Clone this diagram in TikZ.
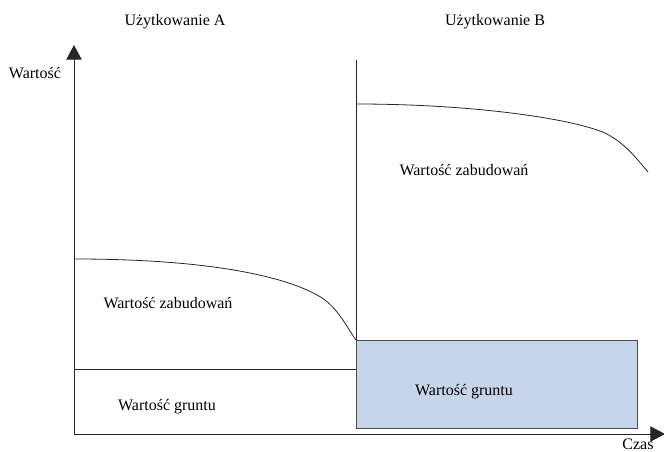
\documentclass[tikz,border=0pt]{standalone}
\usepackage{fontspec}
\setmainfont{Liberation Serif}
\usetikzlibrary{arrows.meta, positioning}
\definecolor{groundblue}{HTML}{C6D5EA}

\begin{document}
\begin{tikzpicture}[
 x=0.75pt, y=-0.75pt,
 lbl/.style={font=\fontsize{12}{14}\selectfont, inner sep=0pt},
 axis/.style={-{Triangle[length=11pt, width=11.5pt]}, line width=0.7pt, black!85},
 curve/.style={line width=0.6pt, black!85},
 ground/.style={draw=black!70, line width=0.6pt, fill=groundblue}
]
\useasboundingbox (0,0) rectangle (664,452);

% axes
\coordinate (origin) at (74,434);
\coordinate (ytop) at (74,45);
\coordinate (xend) at (665,434);
\draw[axis] (origin) -- (ytop);
\draw[axis] (origin) -- (xend);

% use A
\coordinate (astart) at (74,259);
\coordinate (aend) at (356,340);
\coordinate (gleft) at (74,369);
\coordinate (gright) at (356,369);
\draw[curve] (astart) .. controls (230,259) and (300,282) .. (325,300)
 .. controls (340,312) and (346,326) .. (aend);
\draw[curve] (gleft) -- (gright);

% use B
\coordinate (divtop) at (356,60);
\coordinate (bstart) at (356,104);
\coordinate (bend) at (648,172);
\draw[ground] (356,340) rectangle (637,428);
\draw[curve] (aend) -- (divtop);
\draw[curve] (bstart) .. controls (470,104) and (570,118) .. (605,133)
 .. controls (625,143) and (636,158) .. (bend);

% labels
\node[lbl] (useA) at (175,22) {Użytkowanie A};
\node[lbl] (useB) at (495,22) {Użytkowanie B};
\node[lbl] (value) at (35,73) {Wartość};
\node[lbl] (time) at (638,444) {Czas};
\node[lbl] (buildA) at (168,303) {Wartość zabudowań};
\node[lbl] (landA) at (167,407) {Wartość gruntu};
\node[lbl] (buildB) at (464,170) {Wartość zabudowań};
\node[lbl] (landB) at (464,392) {Wartość gruntu};
\end{tikzpicture}
\end{document}
